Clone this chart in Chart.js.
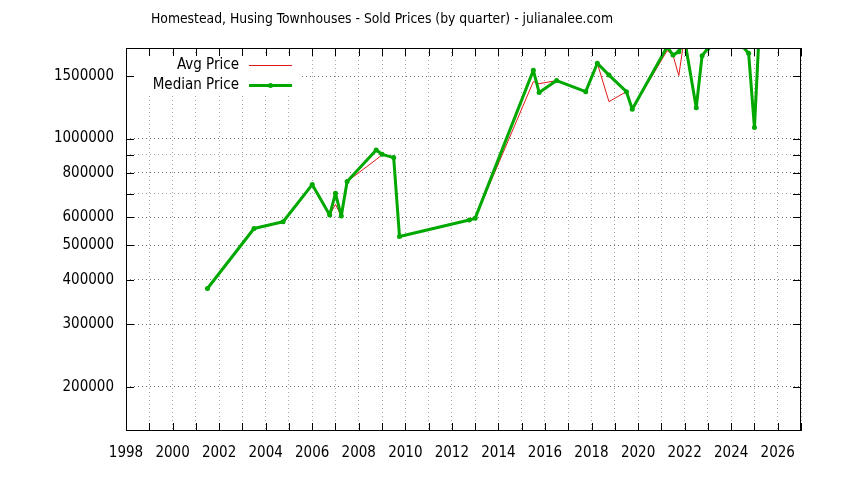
<!DOCTYPE html>
<html>
<head>
<meta charset="utf-8">
<script src="https://cdn.jsdelivr.net/npm/chart.js@4.4.0/dist/chart.umd.min.js"></script>
<style>
  html, body { margin: 0; padding: 0; background: #fff; }
  #wrap { width: 844px; height: 480px; }
</style>
</head>
<body>
<div id="wrap"><canvas id="priceChart" width="844" height="480"></canvas></div>
<script>
// quarter positions (decimal year) and prices
const quarters = [2001.5, 2003.5, 2004.75, 2006.0, 2006.75, 2007.0, 2007.25, 2007.5,
  2008.75, 2009.0, 2009.5, 2009.75, 2012.75, 2013.0, 2015.5, 2015.75, 2016.5, 2017.75,
  2018.25, 2018.75, 2019.5, 2019.75, 2021.25, 2021.5, 2021.75, 2022.0, 2022.5, 2022.75,
  2023.0, 2023.5, 2024.5, 2024.75, 2025.0, 2025.25];
const avgPrice = [378000, 558000, 583000, 742000, 609000, 653000, 605000, 757000,
  873000, 900000, 884000, 530000, 590000, 596000, 1447000, 1428000, 1457000, 1356000,
  1630000, 1271000, 1356000, 1209000, 1770000, 1719000, 1505000, 1950000, 1222000, 1712000,
  1796000, 1950000, 1815000, 1740000, 1074000, 2300000];
const medianPrice = [378000, 558000, 583000, 742000, 609000, 701000, 605000, 757000,
  929000, 903000, 884000, 530000, 590000, 596000, 1557000, 1348000, 1457000, 1356000,
  1630000, 1510000, 1356000, 1209000, 1815000, 1719000, 1758000, 1900000, 1222000, 1712000,
  1796000, 1950000, 1815000, 1740000, 1074000, 2300000];

const xTicks = [1998, 1999, 2000, 2001, 2002, 2003, 2004, 2005, 2006, 2007, 2008, 2009,
  2010, 2011, 2012, 2013, 2014, 2015, 2016, 2017, 2018, 2019, 2020, 2021, 2022, 2023,
  2024, 2025, 2026, 2027];
const xLabels = [1998, 2000, 2002, 2004, 2006, 2008, 2010, 2012, 2014, 2016, 2018, 2020,
  2022, 2024, 2026];
const yTicks = [200000, 300000, 400000, 500000, 600000, 700000, 800000, 900000, 1000000, 1500000];
const yLabels = [200000, 300000, 400000, 500000, 600000, 800000, 1000000, 1500000];

const titleText = "Homestead, Husing Townhouses - Sold Prices (by quarter) - julianalee.com";
const FONT = '"DejaVu Sans Condensed", "DejaVu Sans", sans-serif';

Chart.defaults.font.family = FONT;
Chart.defaults.font.size = 15;
Chart.defaults.color = '#000';

function toPoints(vals) {
  return quarters.map((q, i) => ({ x: q, y: vals[i] }));
}

// gnuplot-like frame, inward ticks, title and key
const gnuplotBits = {
  id: 'gnuplotBits',
  afterDatasetsDraw(chart) {
    const ctx = chart.ctx;
    const ds = chart.data.datasets;
    ctx.save();
    ctx.fillStyle = '#fff';
    ctx.fillRect(127, 55, 174, 40);
    ctx.font = '15px ' + FONT;
    ctx.fillStyle = '#000';
    ctx.textAlign = 'right';
    ctx.textBaseline = 'middle';
    const rows = [65, 85];
    ds.forEach((d, i) => {
      const y = rows[i];
      ctx.fillText(d.label, 239, y);
      ctx.strokeStyle = d.borderColor;
      ctx.lineWidth = d.borderWidth;
      ctx.beginPath();
      ctx.moveTo(249, y + 0.5);
      ctx.lineTo(292, y + 0.5);
      ctx.stroke();
      if (d.pointRadius > 0) {
        ctx.fillStyle = d.borderColor;
        ctx.beginPath();
        ctx.arc(270.5, y + 0.5, d.pointRadius, 0, Math.PI * 2);
        ctx.fill();
        ctx.fillStyle = '#000';
      }
    });
    ctx.restore();
  },
  afterDraw(chart) {
    const { ctx, chartArea: a, scales } = chart;
    ctx.save();
    ctx.strokeStyle = '#000';
    ctx.lineWidth = 1;
    ctx.strokeRect(a.left + 0.5, a.top + 0.5, a.right - a.left - 1, a.bottom - a.top - 1);
    ctx.beginPath();
    scales.x.ticks.forEach(t => {
      const px = Math.round(scales.x.getPixelForValue(t.value)) + 0.5;
      ctx.moveTo(px, a.bottom); ctx.lineTo(px, a.bottom - 8);
      ctx.moveTo(px, a.top); ctx.lineTo(px, a.top + 8);
    });
    scales.y.ticks.forEach(t => {
      const py = Math.round(scales.y.getPixelForValue(t.value)) + 0.5;
      ctx.moveTo(a.left, py); ctx.lineTo(a.left + 8, py);
      ctx.moveTo(a.right, py); ctx.lineTo(a.right - 8, py);
    });
    ctx.stroke();
    ctx.font = '13.8px ' + FONT;
    ctx.fillStyle = '#000';
    ctx.textAlign = 'center';
    ctx.textBaseline = 'middle';
    ctx.fillText(titleText, 382, 19);
    ctx.restore();
  }
};

new Chart(document.getElementById('priceChart'), {
  type: 'line',
  data: {
    datasets: [
      {
        label: 'Avg Price',
        data: toPoints(avgPrice),
        borderColor: '#e01818',
        borderWidth: 1,
        borderJoinStyle: 'round',
        pointRadius: 0,
        tension: 0,
        clip: 0,
        order: 2
      },
      {
        label: 'Median Price',
        data: toPoints(medianPrice),
        borderColor: '#00a800',
        backgroundColor: '#00a800',
        borderWidth: 3,
        borderJoinStyle: 'round',
        borderCapStyle: 'round',
        pointRadius: 2.5,
        pointBorderWidth: 0,
        tension: 0,
        clip: 0,
        order: 1
      }
    ]
  },
  options: {
    responsive: false,
    animation: false,
    devicePixelRatio: 1,
    events: [],
    layout: { padding: { top: 48, right: 43, left: 0, bottom: 0 } },
    plugins: {
      legend: { display: false },
      tooltip: { enabled: false },
      title: { display: false }
    },
    scales: {
      x: {
        type: 'linear',
        min: 1998,
        max: 2027,
        afterBuildTicks: s => { s.ticks = xTicks.map(v => ({ value: v })); },
        afterFit: s => { s.height = 49; },
        ticks: {
          autoSkip: false,
          maxRotation: 0,
          padding: 13,
          callback: v => xLabels.includes(v) ? String(v) : ''
        },
        grid: { color: '#a8a8a8', lineWidth: 1, drawTicks: false },
        border: { display: false, dash: [1, 3] }
      },
      y: {
        type: 'logarithmic',
        min: 150000,
        max: 1800000,
        afterBuildTicks: s => { s.ticks = yTicks.map(v => ({ value: v })); },
        afterFit: s => { s.width = 126; },
        ticks: {
          autoSkip: false,
          padding: 12,
          callback: v => yLabels.includes(v) ? String(v) : ''
        },
        grid: {
          color: c => (c.tick && yLabels.includes(c.tick.value)) ? '#707070' : '#a8a8a8',
          lineWidth: 1,
          drawTicks: false
        },
        border: { display: false, dash: [1, 3] }
      }
    }
  },
  plugins: [gnuplotBits]
});
</script>
</body>
</html>
